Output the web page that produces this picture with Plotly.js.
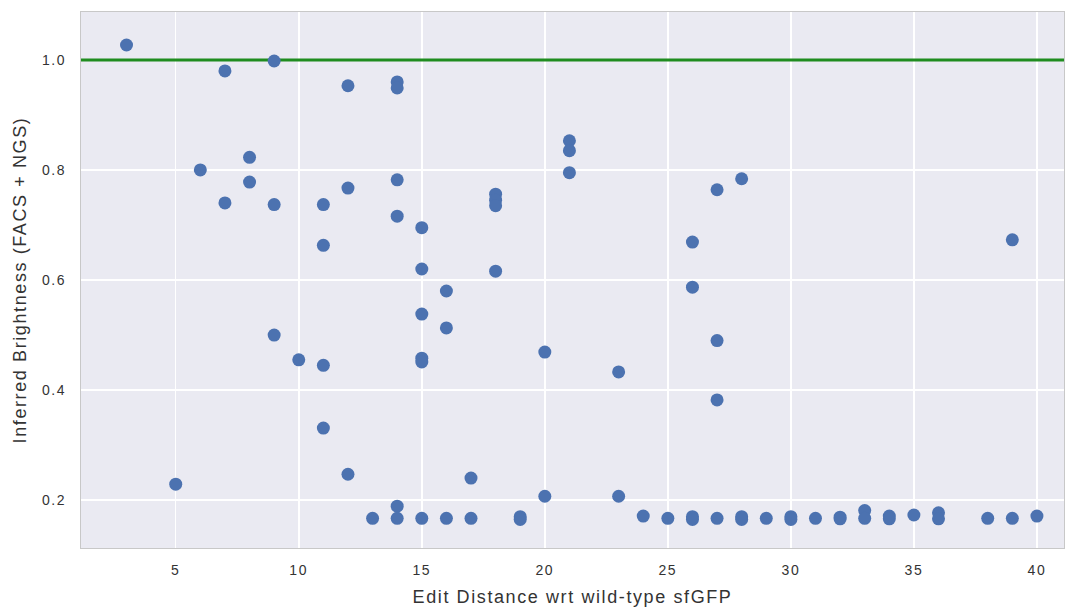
<!DOCTYPE html>
<html>
<head>
<meta charset="utf-8">
<script src="https://cdn.plot.ly/plotly-3.0.1.min.js"></script>
<style>
html,body{margin:0;padding:0;background:#fff;}
#chart{width:1066px;height:608px;}
#chart .xtick text, #chart .ytick text{letter-spacing:1.6px;}
#chart .xtitle, #chart .ytitle{letter-spacing:1.6px;}
</style>
</head>
<body>
<div id="chart"></div>
<script>
// Edit distance (x) and inferred brightness (y)
const editDistance = [
  3, 5, 6, 7, 7, 8, 8, 9, 9, 9,
  10, 11, 11, 11, 11, 12, 12, 12, 13,
  14, 14, 14, 14, 14, 14,
  15, 15, 15, 15, 15, 15,
  16, 16, 16, 17, 17,
  18, 18, 18, 18, 19, 19,
  20, 20, 21, 21, 21, 23, 23, 24, 25,
  26, 26, 26, 26, 27, 27, 27, 27,
  28, 28, 28, 29, 30, 30, 31, 32, 32,
  33, 33, 34, 34, 35, 36, 36, 38, 39, 39, 40
];
const brightness = [
  1.027, 0.229, 0.800, 0.980, 0.740, 0.823, 0.778, 0.998, 0.737, 0.500,
  0.455, 0.737, 0.663, 0.445, 0.331, 0.953, 0.767, 0.247, 0.167,
  0.960, 0.949, 0.782, 0.716, 0.189, 0.167,
  0.695, 0.620, 0.538, 0.458, 0.451, 0.167,
  0.580, 0.513, 0.167, 0.240, 0.167,
  0.756, 0.745, 0.735, 0.616, 0.170, 0.165,
  0.469, 0.207, 0.853, 0.835, 0.795, 0.433, 0.207, 0.171, 0.167,
  0.669, 0.587, 0.170, 0.165, 0.764, 0.490, 0.382, 0.167,
  0.784, 0.170, 0.165, 0.167, 0.170, 0.165, 0.167, 0.169, 0.166,
  0.181, 0.167, 0.171, 0.166, 0.173, 0.177, 0.166, 0.167, 0.673, 0.167, 0.171
];
const referenceLevel = [1.0];
const xRange = [1.15, 41.1];
const yRange = [0.113, 1.087];
const xTicks = [5, 10, 15, 20, 25, 30, 35, 40];
const yTicks = [0.2, 0.4, 0.6, 0.8, 1.0];
const yTickText = ['0.2', '0.4', '0.6', '0.8', '1.0'];

const traces = [
  {
    x: xRange, y: [referenceLevel[0], referenceLevel[0]],
    type: 'scatter', mode: 'lines',
    line: {color: '#1f8c1f', width: 3},
    hoverinfo: 'skip', showlegend: false
  },
  {
    x: editDistance, y: brightness,
    type: 'scatter', mode: 'markers',
    marker: {color: '#4c72b0', size: 13},
    showlegend: false
  }
];

const fam = 'Liberation Sans, Arial, sans-serif';
const tickFont = {family: fam, size: 14, color: '#333333'};
const titleFont = {family: fam, size: 18, color: '#333333'};
const layout = {
  width: 1066, height: 608,
  margin: {l: 81, r: 2, t: 12, b: 60},
  paper_bgcolor: '#ffffff',
  plot_bgcolor: '#eaeaf2',
  showlegend: false,
  xaxis: {
    range: xRange, tickvals: xTicks, ticks: '', tickfont: tickFont, ticklabelstandoff: 9,
    showgrid: true, gridcolor: '#ffffff', gridwidth: 1.5, zeroline: false,
    showline: true, linecolor: '#c8c8c8', linewidth: 1, mirror: true,
    title: {text: 'Edit Distance wrt wild-type sfGFP', font: titleFont, standoff: 13}
  },
  yaxis: {
    range: yRange, tickvals: yTicks, ticktext: yTickText, ticks: '', tickfont: tickFont, ticklabelstandoff: 11,
    showgrid: true, gridcolor: '#ffffff', gridwidth: 1.5, zeroline: false,
    showline: true, linecolor: '#c8c8c8', linewidth: 1, mirror: true,
    title: {text: 'Inferred Brightness (FACS + NGS)', font: titleFont, standoff: 15}
  }
};

Plotly.newPlot('chart', traces, layout, {displayModeBar: false, staticPlot: true});
</script>
</body>
</html>
